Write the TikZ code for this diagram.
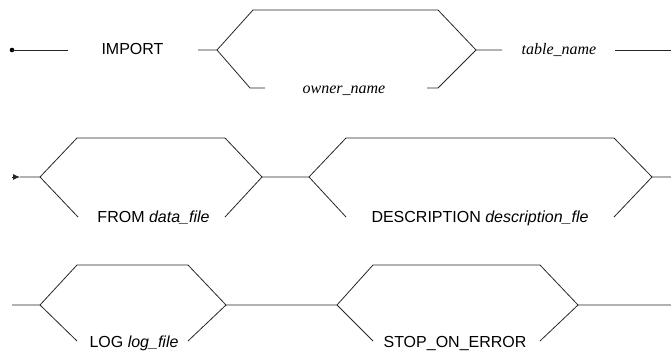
\documentclass[tikz,border=0pt]{standalone}
\usepackage{fontspec}
\setmainfont{Liberation Sans}
\newfontfamily\seriffont{Liberation Serif}
\usetikzlibrary{arrows.meta}
\begin{document}
\begin{tikzpicture}[x=1pt,y=-1pt,
  rail/.style={draw=black!85,line width=0.8pt,line join=miter},
  lbl/.style={anchor=base,inner sep=0pt,font=\fontsize{16pt}{19pt}\selectfont},
  slbl/.style={lbl,font=\fontsize{16pt}{19pt}\selectfont\seriffont\itshape}]
\useasboundingbox (0,0) rectangle (671,353);
% ---------- row 1 ----------
\coordinate (s1) at (12,50);
\coordinate (a1) at (68,50);
\node[lbl] (import) at (132.5,55) {IMPORT};
\coordinate (b1) at (198,50);
\coordinate (j1) at (217,50);
\coordinate (u1) at (253,10);
\coordinate (u2) at (438,10);
\coordinate (k1) at (476,50);
\coordinate (l1) at (250,88);
\coordinate (l2) at (265,88);
\coordinate (r1) at (427,88);
\coordinate (r2) at (438,88);
\node[slbl] (owner) at (344,93.5) {owner\_name};
\coordinate (c1) at (502,50);
\node[slbl] (table) at (559,55) {table\_name};
\coordinate (d1) at (615,50);
\coordinate (e1) at (671,50);
\fill[black] (s1) circle (2.3pt);
\draw[rail] (s1) -- (a1);
\draw[rail] (b1) -- (j1) -- (u1) -- (u2) -- (k1) -- (c1);
\draw[rail] (j1) -- (l1) -- (l2);
\draw[rail] (r1) -- (r2) -- (k1);
\draw[rail] (d1) -- (e1);
% ---------- row 2 ----------
\coordinate (s2) at (12,177);
\coordinate (t2) at (20,177);
\coordinate (j2) at (40,177);
\coordinate (u3) at (77,138);
\coordinate (u4) at (225,138);
\coordinate (k2) at (262,177);
\coordinate (l3) at (78,217);
\coordinate (r3) at (225,217);
\node[lbl] (from) at (153.5,222.5) {FROM \textit{data\_file}};
\coordinate (j3) at (309,177);
\coordinate (u5) at (346,138);
\coordinate (u6) at (614,138);
\coordinate (k3) at (652,177);
\coordinate (l4) at (346,217);
\coordinate (r4) at (614,217);
\node[lbl] (desc) at (480,222.5) {DESCRIPTION \textit{description\_fle}};
\coordinate (e2) at (671,177);
\draw[rail,-{Latex[length=7pt,width=6pt]}] (s2) -- (t2);
\draw[rail] (t2) -- (j2) -- (u3) -- (u4) -- (k2) -- (j3) -- (u5) -- (u6) -- (k3) -- (e2);
\draw[rail] (j2) -- (l3);
\draw[rail] (r3) -- (k2);
\draw[rail] (j3) -- (l4);
\draw[rail] (r4) -- (k3);
% ---------- row 3 ----------
\coordinate (s3) at (12,305);
\coordinate (j4) at (40,305);
\coordinate (u7) at (77,265);
\coordinate (u8) at (188,265);
\coordinate (k4) at (226,305);
\coordinate (l5) at (77,341);
\coordinate (r5) at (188,341);
\node[lbl] (log) at (134,347) {LOG \textit{log\_file}};
\coordinate (j5) at (337,305);
\coordinate (u9) at (373,265);
\coordinate (u10) at (540,265);
\coordinate (k5) at (578,305);
\coordinate (l6) at (373,341);
\coordinate (r6) at (540,341);
\node[lbl] (stop) at (455,347) {STOP\_ON\_ERROR};
\coordinate (e3) at (671,305);
\draw[rail] (s3) -- (j4) -- (u7) -- (u8) -- (k4) -- (j5) -- (u9) -- (u10) -- (k5) -- (e3);
\draw[rail] (j4) -- (l5);
\draw[rail] (r5) -- (k4);
\draw[rail] (j5) -- (l6);
\draw[rail] (r6) -- (k5);
\end{tikzpicture}
\end{document}
